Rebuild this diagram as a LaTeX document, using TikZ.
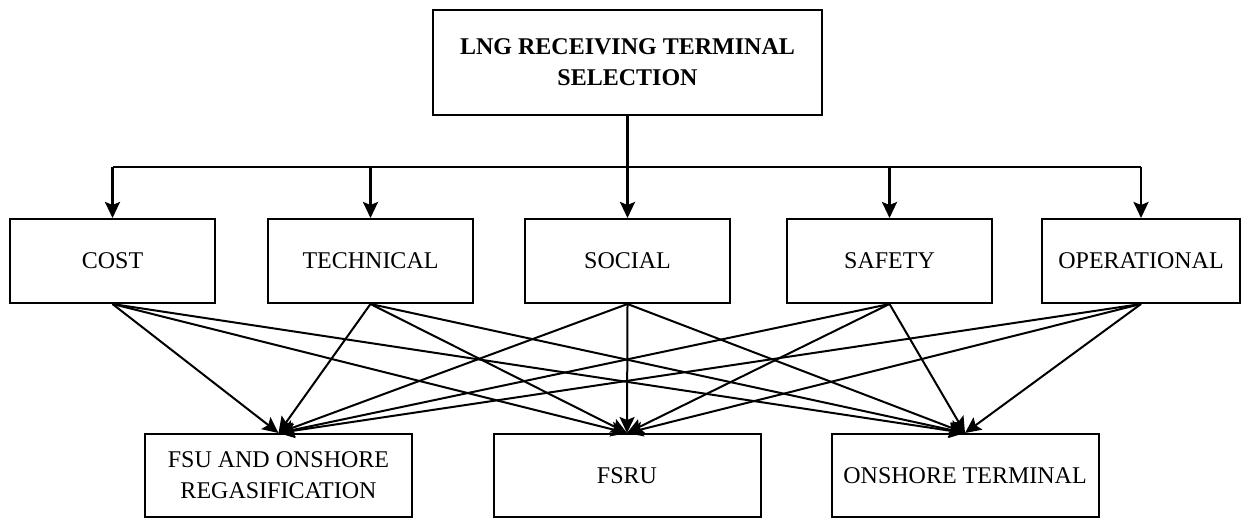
\documentclass[tikz,border=0pt]{standalone}
\usepackage{fontspec}
\setmainfont{Liberation Serif}
\usetikzlibrary{arrows.meta}

\begin{document}
\begin{tikzpicture}[x=0.5pt,y=-0.5pt,->,>={Stealth[length=8pt,width=7.5pt,inset=1.5pt]},line width=1pt,
  font=\fontsize{12}{15.5}\selectfont]
  \tikzstyle{goal}=[draw,rectangle,align=center,font=\fontsize{12}{15.5}\selectfont\bfseries,minimum width=194.5pt,minimum height=52.5pt]
  \tikzstyle{crit}=[draw,rectangle,align=center,minimum width=102.5pt,minimum height=42pt]
  \tikzstyle{alt}=[draw,rectangle,align=center,minimum width=133.5pt,minimum height=41.5pt]
  \useasboundingbox (0,0) rectangle (1245,518);

  \node[goal] (goal) at (627.5,62.5) {LNG RECEIVING TERMINAL\\SELECTION};

  \node[crit] (cost)   at (112.5,261) {COST};
  \node[crit] (tech)   at (370.5,261) {TECHNICAL};
  \node[crit] (social) at (627.5,261) {SOCIAL};
  \node[crit] (safety) at (889.5,261) {SAFETY};
  \node[crit,minimum width=99pt] (oper) at (1141,261) {OPERATIONAL};

  \node[alt] (fsu)     at (278.5,475.5) {FSU AND ONSHORE\\REGASIFICATION};
  \node[alt] (fsru)    at (627,475.5)   {FSRU};
  \node[alt] (onshore) at (965,475.5)   {ONSHORE TERMINAL};

  % bus from the goal down to the criteria
  \coordinate (bus) at (627.5,167);
  \draw[-,line width=1.3pt] (goal.south) -- (bus);
  \draw[-,line width=1.3pt] (cost.north |- bus) -- (oper.north |- bus);
  \foreach \c in {cost,tech,social,safety,oper}
    \draw[line width=1.3pt] (\c.north |- bus) -- (\c.north);

  % every criterion feeds every alternative
  \foreach \c in {cost,tech,social,safety,oper}
    \foreach \a in {fsu,fsru,onshore}
      \draw (\c.south) -- (\a.north);
\end{tikzpicture}
\end{document}
